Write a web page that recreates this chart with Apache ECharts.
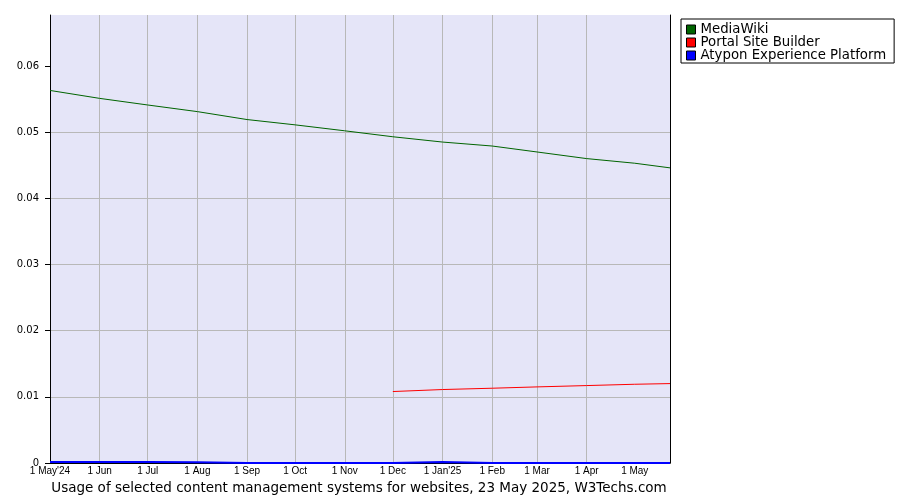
<!DOCTYPE html>
<html>
<head>
<meta charset="utf-8">
<script src="https://cdn.jsdelivr.net/npm/echarts@6/dist/echarts.min.js"></script>
<style>html,body{margin:0;padding:0;background:#fff}#c{width:900px;height:500px}</style>
</head>
<body>
<div id="c"></div>
<script>
// Data (month starts + last day)
var dates = ['2024-05-01','2024-06-01','2024-07-01','2024-08-01','2024-09-01','2024-10-01','2024-11-01','2024-12-01','2025-01-01','2025-02-01','2025-03-01','2025-04-01','2025-05-01','2025-05-23'];
var mediaWiki = [0.0563,0.0551,0.0541,0.0531,0.0519,0.0511,0.0502,0.0493,0.0485,0.0479,0.0470,0.0460,0.0453,0.0446];
var portalSiteBuilder = [null,null,null,null,null,null,null,0.0108,0.0111,0.0113,0.0115,0.0117,0.0119,0.0120];
var atypon = [0.00015,0.00015,0.00015,0.00012,0,0,0,0,0.00015,0,0,0,0,0];
var seriesNames = ['MediaWiki','Portal Site Builder','Atypon Experience Platform'];
var seriesColors = ['#006400','#ff0000','#0000ff'];
var xTicks = ['2024-05-01','2024-06-01','2024-07-01','2024-08-01','2024-09-01','2024-10-01','2024-11-01','2024-12-01','2025-01-01','2025-02-01','2025-03-01','2025-04-01','2025-05-01'];
var yTicks = [0,0.01,0.02,0.03,0.04,0.05,0.06];
var titleText = 'Usage of selected content management systems for websites, 23 May 2025, W3Techs.com';
var monthNames = ['Jan','Feb','Mar','Apr','May','Jun','Jul','Aug','Sep','Oct','Nov','Dec'];

function ts(s){ var p = s.split('-'); return Date.UTC(+p[0], +p[1]-1, +p[2]); }
function pairs(vals){ return dates.map(function(d,i){ return [ts(d), vals[i]]; }); }
var xTickVals = xTicks.map(ts);

var chart = echarts.init(document.getElementById('c'), null, {renderer:'canvas'});
chart.setOption({
  animation: false,
  backgroundColor: '#ffffff',
  grid: {left: 50, right: 230, top: 15, bottom: 37, show: true, backgroundColor: '#e5e5f8', borderWidth: 0},
  xAxis: {
    type: 'value',
    min: ts('2024-05-01'), max: ts('2025-05-23'),
    axisLine: {show: true, onZero: false, lineStyle: {color: '#000', width: 1}},
    axisTick: {show: false, customValues: xTickVals},
    splitLine: {show: true, showMinLine: false, showMaxLine: false, lineStyle: {color: '#b8b8b8', width: 1}},
    axisLabel: {
      customValues: xTickVals,
      margin: 3,
      color: '#000',
      fontFamily: 'Liberation Sans',
      fontSize: 10,
      formatter: function(v){
        var d = new Date(v);
        var m = d.getUTCMonth();
        var s = d.getUTCDate() + ' ' + monthNames[m];
        if (m === 0 || v === xTickVals[0]) s += "'" + String(d.getUTCFullYear()).slice(2);
        return s;
      }
    }
  },
  yAxis: [{
    type: 'value',
    min: 0, max: 0.0677,
    axisLine: {show: true, lineStyle: {color: '#000', width: 1}},
    axisTick: {show: true, length: 5, customValues: yTicks, lineStyle: {color: '#000'}},
    splitLine: {show: true, showMaxLine: false, lineStyle: {color: '#b8b8b8', width: 1}},
    axisLabel: {
      customValues: yTicks,
      margin: 11,
      color: '#000',
      fontFamily: 'DejaVu Sans',
      fontSize: 10,
      formatter: function(v){ return v === 0 ? '0' : v.toFixed(2); }
    }
  },{
    type: 'value', position: 'right', min: 0, max: 0.0677,
    axisLine: {show: true, lineStyle: {color: '#000', width: 1}},
    axisTick: {show: false}, axisLabel: {show: false}, splitLine: {show: false}
  }],
  legend: {
    orient: 'vertical',
    left: 681, top: 19,
    padding: [4, 8, 1, 5],
    borderColor: '#000', borderWidth: 1,
    itemWidth: 9, itemHeight: 9, itemGap: 0,
    icon: 'rect',
    textStyle: {fontFamily: 'DejaVu Sans', fontSize: 13.3, color: '#000', lineHeight: 12, height: 12},
    data: seriesNames.map(function(n){ return {name: n, itemStyle: {borderColor: '#000', borderWidth: 1}}; })
  },
  graphic: [{
    type: 'text', x: 359, y: 488,
    style: {text: titleText, fontFamily: 'DejaVu Sans', fontSize: 13.5, fill: '#000', textAlign: 'center', textVerticalAlign: 'middle'}
  }],
  series: [
    {name: seriesNames[0], type: 'line', data: pairs(mediaWiki), showSymbol: false, symbol: 'none', lineStyle: {color: seriesColors[0], width: 1}, itemStyle: {color: seriesColors[0]}},
    {name: seriesNames[1], type: 'line', data: pairs(portalSiteBuilder), showSymbol: false, symbol: 'none', connectNulls: false, lineStyle: {color: seriesColors[1], width: 1}, itemStyle: {color: seriesColors[1]}},
    {name: seriesNames[2], type: 'line', data: pairs(atypon), showSymbol: false, symbol: 'none', lineStyle: {color: seriesColors[2], width: 2}, itemStyle: {color: seriesColors[2]}, z: 5}
  ]
});
</script>
</body>
</html>
